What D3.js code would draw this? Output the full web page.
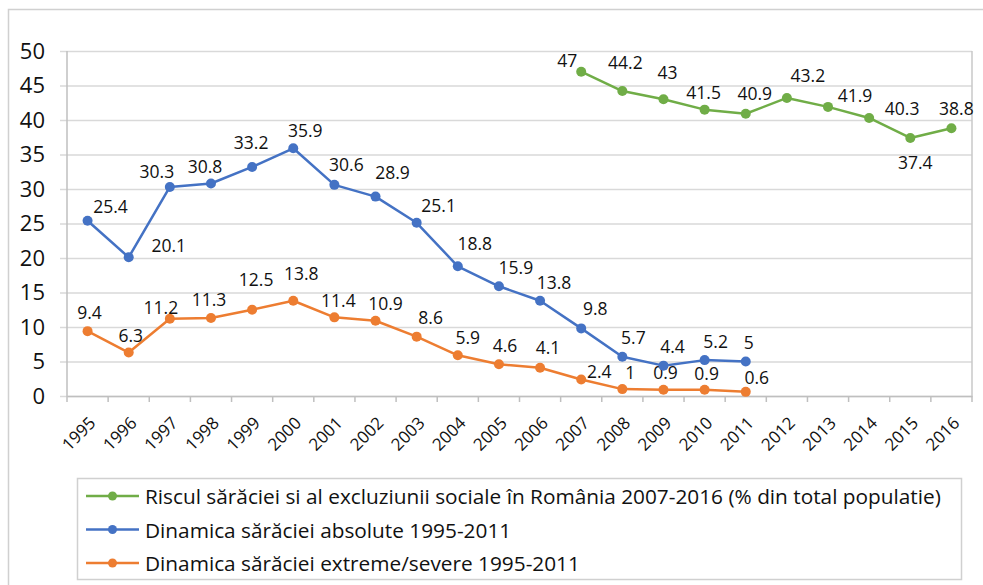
<!DOCTYPE html>
<html><head><meta charset="utf-8">
<script src="https://cdn.jsdelivr.net/npm/d3@7"></script>
<style>body{margin:0;background:#fff}svg{display:block}</style>
</head><body>
<svg id="c" width="983" height="585"></svg>
<script>
const years = ["1995","1996","1997","1998","1999","2000","2001","2002","2003","2004","2005","2006","2007","2008","2009","2010","2011","2012","2013","2014","2015","2016"];
const yTicks = [0,5,10,15,20,25,30,35,40,45,50];

const riskYears = ["2007","2008","2009","2010","2011","2012","2013","2014","2015","2016"];
const riskValues = [47,44.2,43,41.5,40.9,43.2,41.9,40.3,37.4,38.8];

const absYears = ["1995","1996","1997","1998","1999","2000","2001","2002","2003","2004","2005","2006","2007","2008","2009","2010","2011"];
const absValues = [25.4,20.1,30.3,30.8,33.2,35.9,30.6,28.9,25.1,18.8,15.9,13.8,9.8,5.7,4.4,5.2,5];
const extValues = [9.4,6.3,11.2,11.3,12.5,13.8,11.4,10.9,8.6,5.9,4.6,4.1,2.4,1,0.9,0.9,0.6];

const seriesNames = [
  "Riscul sărăciei si al excluziunii sociale în România 2007-2016 (% din total populatie)",
  "Dinamica sărăciei absolute 1995-2011",
  "Dinamica sărăciei extreme/severe 1995-2011"
];
const colors = ["#70AD47","#4472C4","#ED7D31"];

// label nudges (layout only): [dx, dy] from the marker
const riskNudge = [[-14,-12],[3,-29],[4,-27],[-1,-18],[9,-21],[21,-23],[27,-12],[33,-10],[5,24],[5,-20]];
const absNudge = [[23,-15],[40,-12],[-13,-16],[-6,-17],[-1,-25],[12,-18],[12,-21],[17,-25],[22,-18],[17,-23],[17,-19],[14,-19],[14,-20],[11,-20],[9,-20],[11,-19],[3,-20]];
const extNudge = [[2,-19],[2,-18],[-9,-12],[-2,-19],[4,-31],[8,-28],[4,-17],[10,-18],[14,-20],[10,-18],[6,-19],[8,-21],[18,-8],[8,-17],[2,-18],[2,-17],[11,-15]];

const svg = d3.select("#c");
const font = "'Open Sans', sans-serif";
const L = 67, R = 972, T = 51, B = 396;

// outer chart border
svg.append("rect").attr("x",8.5).attr("y",9.5).attr("width",1000).attr("height",1000)
  .attr("fill","none").attr("stroke","#d0d0d0").attr("stroke-width",1.5);

const x = d3.scaleBand().domain(years).range([L,R]);
const y = d3.scaleLinear().domain([0,50]).range([B,T]);
const xc = d => x(d) + x.bandwidth()/2;

// gridlines + y axis
const yAxis = d3.axisLeft(y).tickValues(yTicks).tickSize(-(R-L)).tickPadding(16).tickFormat(d3.format("d"));
const gy = svg.append("g").attr("transform",`translate(${L},0)`).call(yAxis);
gy.select(".domain").remove();
gy.selectAll(".tick line").attr("stroke","#d9d9d9").attr("stroke-width",1.5).attr("x1",-7);
gy.selectAll(".tick text").attr("font-family",font).attr("font-size",22).attr("fill","#111").attr("x",-22);

// plot frame
svg.append("line").attr("x1",L).attr("x2",L).attr("y1",T).attr("y2",B).attr("stroke","#bfbfbf").attr("stroke-width",1.5);
svg.append("line").attr("x1",R).attr("x2",R).attr("y1",T).attr("y2",B).attr("stroke","#c8c8c8").attr("stroke-width",1.5);

// x axis
const xAxis = d3.axisBottom(x).tickSize(0).tickPadding(0);
const gx = svg.append("g").attr("transform",`translate(0,${B})`).call(xAxis);
gx.select(".domain").attr("stroke","#bfbfbf").attr("stroke-width",1.5);
gx.selectAll(".tick text")
  .attr("font-family",font).attr("font-size",17).attr("fill","#111")
  .attr("text-anchor","end").attr("dominant-baseline","central")
  .attr("transform",`translate(-4,15) rotate(-45)`);
// category boundary tick marks
const bounds = years.map(d => x(d)).concat([R]);
svg.append("g").selectAll("line").data(bounds).join("line")
  .attr("x1",d=>d).attr("x2",d=>d).attr("y1",B).attr("y2",B+6)
  .attr("stroke","#bfbfbf").attr("stroke-width",1.5);

const line = d3.line().x(d=>xc(d[0])).y(d=>y(d[1]));

function drawSeries(cats, vals, color, nudge){
  const pts = cats.map((c,i)=>[c,vals[i]]);
  const g = svg.append("g");
  g.append("path").datum(pts).attr("d",line).attr("fill","none")
    .attr("stroke",color).attr("stroke-width",2.5).attr("stroke-linejoin","round");
  g.selectAll("circle").data(pts).join("circle")
    .attr("cx",d=>xc(d[0])).attr("cy",d=>y(d[1])).attr("r",5).attr("fill",color);
  g.selectAll("text").data(pts).join("text")
    .attr("x",(d,i)=>xc(d[0])+nudge[i][0]).attr("y",(d,i)=>y(d[1])+nudge[i][1])
    .attr("text-anchor","middle").attr("dominant-baseline","central")
    .attr("font-family",font).attr("font-size",17.5).attr("fill","#111")
    .text(d=>String(d[1]));
}
drawSeries(absYears, extValues, colors[2], extNudge);
drawSeries(absYears, absValues, colors[1], absNudge);
drawSeries(riskYears, riskValues, colors[0], riskNudge);

// legend
svg.append("rect").attr("x",77.5).attr("y",478.5).attr("width",884).attr("height",101)
  .attr("fill","none").attr("stroke","#d0d0d0").attr("stroke-width",1.5);
const lg = svg.append("g").selectAll("g").data(seriesNames).join("g")
  .attr("transform",(d,i)=>`translate(0,${496 + i*33.5})`);
lg.append("line").attr("x1",86).attr("x2",139).attr("y1",0).attr("y2",0)
  .attr("stroke",(d,i)=>colors[i]).attr("stroke-width",2.5);
lg.append("circle").attr("cx",112.5).attr("cy",0).attr("r",4.5).attr("fill",(d,i)=>colors[i]);
lg.append("text").attr("x",145).attr("y",0).attr("dominant-baseline","central")
  .attr("font-family",font).attr("font-size",20.8).attr("fill","#111").text(d=>d);
</script>
</body></html>
